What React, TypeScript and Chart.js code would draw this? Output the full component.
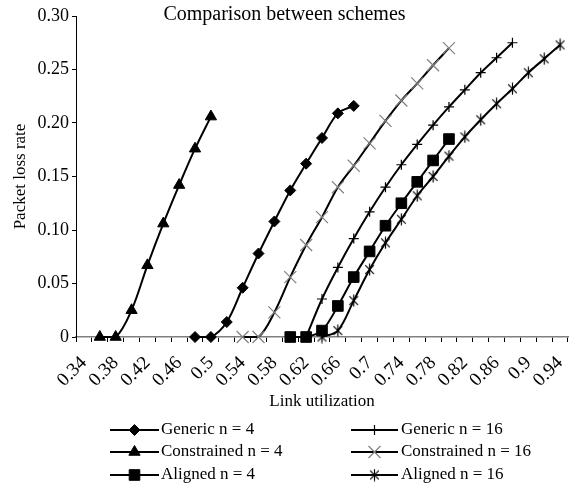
import React, { useEffect, useRef } from 'react';
import { Chart, registerables } from 'chart.js';

Chart.register(...registerables);

// X categories (link utilization)
const categories = [
  '0.34', '0.36', '0.38', '0.4', '0.42', '0.44', '0.46', '0.48', '0.5', '0.52',
  '0.54', '0.56', '0.58', '0.6', '0.62', '0.64', '0.66', '0.68', '0.7', '0.72',
  '0.74', '0.76', '0.78', '0.8', '0.82', '0.84', '0.86', '0.88', '0.9', '0.92', '0.94',
];

// Y tick values
const yTicks = [0, 0.05, 0.1, 0.15, 0.2, 0.25, 0.3];

// Series (first category + packet loss values)
const genericN4Start = '0.48';
const genericN4 = [0, 0, 0.014, 0.046, 0.078, 0.108, 0.137, 0.162, 0.186, 0.209, 0.216];

const constrainedN4Start = '0.36';
const constrainedN4 = [0, 0, 0.025, 0.067, 0.106, 0.142, 0.176, 0.206];

const alignedN4Start = '0.6';
const alignedN4 = [0, 0, 0.006, 0.029, 0.056, 0.08, 0.104, 0.125, 0.145, 0.165, 0.185];

const genericN16Start = '0.62';
const genericN16 = [0, 0.0355, 0.065, 0.092, 0.117, 0.14, 0.161, 0.18, 0.198, 0.215, 0.231, 0.247, 0.261, 0.275];

const constrainedN16Start = '0.54';
const constrainedN16 = [0, 0, 0.023, 0.056, 0.086, 0.112, 0.14, 0.16, 0.181, 0.202, 0.221, 0.237, 0.254, 0.27];

const alignedN16Start = '0.64';
const alignedN16 = [0, 0.006, 0.034, 0.063, 0.088, 0.11, 0.132, 0.15, 0.169, 0.187, 0.203, 0.218, 0.232, 0.247, 0.26, 0.273];

const seriesLabels = [
  'Generic n = 4', 'Constrained n = 4', 'Aligned n = 4',
  'Generic n = 16', 'Constrained n = 16', 'Aligned n = 16',
];

const titleText = 'Comparison between schemes';
const xTitle = 'Link utilization';
const yTitle = 'Packet loss rate';

const SERIF = '"Liberation Serif", "Times New Roman", serif';

function pad(start: string, values: number[]) {
  const i = categories.indexOf(start);
  return categories.map((_, k) => (k >= i && k - i < values.length ? values[k - i] : null));
}

function makeAsterisk(size: number) {
  const c = document.createElement('canvas');
  c.width = size;
  c.height = size;
  const g = c.getContext('2d')!;
  g.strokeStyle = '#000';
  g.lineWidth = 1.2;
  const m = size / 2;
  const r = size / 2 - 0.5;
  const d = r * 0.72;
  g.beginPath();
  g.moveTo(m, m - r);
  g.lineTo(m, m + r);
  g.moveTo(m - d, m - d);
  g.lineTo(m + d, m + d);
  g.moveTo(m + d, m - d);
  g.lineTo(m - d, m + d);
  g.stroke();
  return c;
}

function drawMarker(ctx: CanvasRenderingContext2D, ds: any, x: number, y: number) {
  const style = ds.pointStyle;
  const r = ds.pointRadius;
  ctx.save();
  ctx.fillStyle = ds.pointBackgroundColor;
  ctx.strokeStyle = ds.pointBorderColor;
  ctx.lineWidth = ds.pointBorderWidth;
  ctx.beginPath();
  if (typeof style !== 'string') {
    ctx.drawImage(style, x - style.width / 2, y - style.height / 2);
  } else if (style === 'rectRot') {
    ctx.moveTo(x, y - r);
    ctx.lineTo(x + r, y);
    ctx.lineTo(x, y + r);
    ctx.lineTo(x - r, y);
    ctx.closePath();
    ctx.fill();
    ctx.stroke();
  } else if (style === 'triangle') {
    const h = r * Math.sin(Math.PI / 3);
    ctx.moveTo(x, y - r);
    ctx.lineTo(x + h, y + r / 2);
    ctx.lineTo(x - h, y + r / 2);
    ctx.closePath();
    ctx.fill();
    ctx.stroke();
  } else if (style === 'rect') {
    const s = r * Math.SQRT1_2;
    ctx.rect(x - s, y - s, 2 * s, 2 * s);
    ctx.fill();
    ctx.stroke();
  } else if (style === 'cross') {
    ctx.moveTo(x, y - r);
    ctx.lineTo(x, y + r);
    ctx.moveTo(x - r, y);
    ctx.lineTo(x + r, y);
    ctx.stroke();
  } else if (style === 'crossRot') {
    const s = r * Math.SQRT1_2;
    ctx.moveTo(x - s, y - s);
    ctx.lineTo(x + s, y + s);
    ctx.moveTo(x + s, y - s);
    ctx.lineTo(x - s, y + s);
    ctx.stroke();
  }
  ctx.restore();
}

const titlePlugin = {
  id: 'excelTitle',
  afterDraw(chart: any) {
    const ctx = chart.ctx as CanvasRenderingContext2D;
    ctx.save();
    ctx.font = `20px ${SERIF}`;
    ctx.fillStyle = '#000';
    ctx.textAlign = 'center';
    ctx.textBaseline = 'alphabetic';
    ctx.fillText(titleText, chart.width / 2, 20);
    ctx.restore();
  },
};

const legendPlugin = {
  id: 'excelLegend',
  afterDraw(chart: any) {
    const ctx = chart.ctx as CanvasRenderingContext2D;
    const rows = [430, 452, 475];
    const cols = [
      { x1: 110, x2: 159, tx: 161 },
      { x1: 351, x2: 398, tx: 401 },
    ];
    ctx.save();
    chart.data.datasets.forEach((ds: any, i: number) => {
      const col = cols[Math.floor(i / 3)];
      const y = rows[i % 3];
      ctx.strokeStyle = '#000';
      ctx.lineWidth = 2;
      ctx.beginPath();
      ctx.moveTo(col.x1, y);
      ctx.lineTo(col.x2, y);
      ctx.stroke();
      drawMarker(ctx, ds, (col.x1 + col.x2) / 2, y);
      ctx.font = `17px ${SERIF}`;
      ctx.fillStyle = '#000';
      ctx.textAlign = 'left';
      ctx.textBaseline = 'middle';
      ctx.fillText(ds.label, col.tx, y);
    });
    ctx.restore();
  },
};

export default function App() {
  const ref = useRef<HTMLCanvasElement>(null);

  useEffect(() => {
    const canvas = ref.current!;
    const asterisk = makeAsterisk(13);

    const base = {
      borderColor: '#000',
      borderWidth: 2,
      tension: 0.33,
      clip: false as any,
      fill: false,
    };

    const datasets: any[] = [
      { ...base, label: seriesLabels[0], data: pad(genericN4Start, genericN4), pointStyle: 'rectRot', pointRadius: 5.5, pointBackgroundColor: '#000', pointBorderColor: '#000', pointBorderWidth: 1 },
      { ...base, label: seriesLabels[1], data: pad(constrainedN4Start, constrainedN4), pointStyle: 'triangle', pointRadius: 6.5, pointBackgroundColor: '#000', pointBorderColor: '#000', pointBorderWidth: 1 },
      { ...base, label: seriesLabels[2], data: pad(alignedN4Start, alignedN4), pointStyle: 'rect', pointRadius: 7.5, pointBackgroundColor: '#000', pointBorderColor: '#000', pointBorderWidth: 1 },
      { ...base, label: seriesLabels[3], data: pad(genericN16Start, genericN16), pointStyle: 'cross', pointRadius: 5, pointBackgroundColor: '#000', pointBorderColor: '#000', pointBorderWidth: 1.2 },
      { ...base, label: seriesLabels[4], data: pad(constrainedN16Start, constrainedN16), pointStyle: 'crossRot', pointRadius: 8.5, pointBackgroundColor: '#808080', pointBorderColor: '#808080', pointBorderWidth: 1.2 },
      { ...base, label: seriesLabels[5], data: pad(alignedN16Start, alignedN16), pointStyle: asterisk, pointRadius: 6, pointBackgroundColor: '#000', pointBorderColor: '#000', pointBorderWidth: 1.2 },
    ];

    const chart = new Chart(canvas, {
      type: 'line',
      data: { labels: categories, datasets },
      options: {
        animation: false,
        responsive: true,
        maintainAspectRatio: false,
        events: [],
        layout: { autoPadding: false, padding: { top: 16, right: 1, bottom: 80, left: 0 } },
        plugins: {
          legend: { display: false },
          title: { display: false },
          tooltip: { enabled: false },
        },
        scales: {
          x: {
            type: 'category',
            offset: true,
            grid: {
              offset: true,
              drawOnChartArea: false,
              drawTicks: true,
              tickLength: 5,
              color: '#000',
              lineWidth: 1,
            },
            border: { display: true, color: '#808080', width: 1.5 },
            ticks: {
              autoSkip: false,
              minRotation: 45,
              maxRotation: 45,
              padding: 10,
              color: '#000',
              font: { family: SERIF, size: 19 },
              callback: (_v: any, i: number) => (i % 2 === 0 ? categories[i] : ''),
            },
            title: {
              display: true,
              text: xTitle,
              color: '#000',
              font: { family: SERIF, size: 17 },
              padding: { top: 0, bottom: 0 },
            },
            afterFit: (scale: any) => {
              scale.height = 75;
              scale.paddingLeft = 0;
              scale.paddingRight = 0;
            },
          },
          y: {
            type: 'linear',
            min: 0,
            max: 0.3,
            afterBuildTicks: (scale: any) => {
              scale.ticks = yTicks.map((v) => ({ value: v }));
            },
            grid: {
              drawOnChartArea: false,
              drawTicks: true,
              tickLength: 4,
              color: '#000',
              lineWidth: 1,
            },
            border: { display: true, color: '#000', width: 1 },
            ticks: {
              padding: 3,
              color: '#000',
              font: { family: SERIF, size: 18 },
              callback: (v: any) => (Number(v) === 0 ? '0' : Number(v).toFixed(2)),
            },
            title: {
              display: true,
              text: yTitle,
              color: '#000',
              font: { family: SERIF, size: 17 },
              padding: { top: 10, bottom: 0 },
            },
            afterFit: (scale: any) => {
              scale.width = 76;
              scale.paddingTop = 0;
              scale.paddingBottom = 0;
            },
          },
        },
      },
      plugins: [titlePlugin, legendPlugin],
    });

    return () => chart.destroy();
  }, []);

  return (
    <div style={{ position: 'absolute', left: 0, top: 0, width: 569, height: 492, background: '#fff' }}>
      <canvas ref={ref} />
    </div>
  );
}
